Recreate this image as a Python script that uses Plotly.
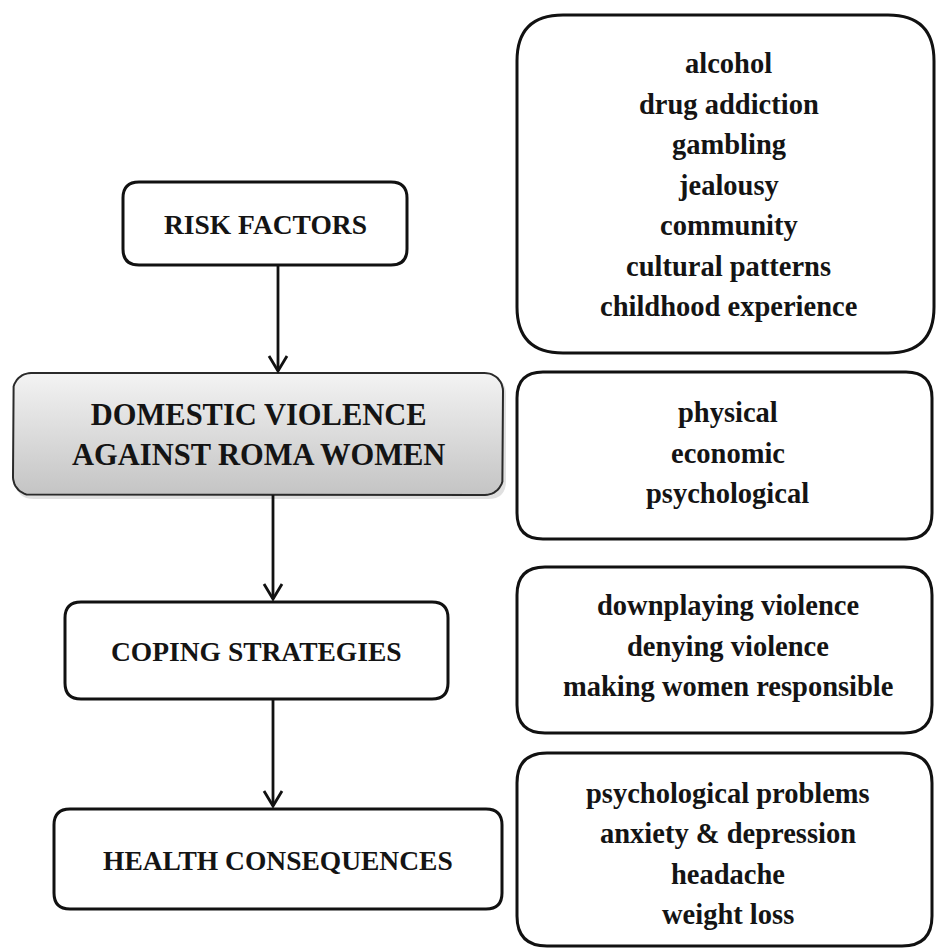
import plotly.graph_objects as go
import math

# ---- content ----
main_labels = ["RISK FACTORS", "DOMESTIC VIOLENCE<br>AGAINST ROMA WOMEN",
               "COPING STRATEGIES", "HEALTH CONSEQUENCES"]
risk_items = ["alcohol", "drug addiction", "gambling", "jealousy", "community",
              "cultural patterns", "childhood experience"]
violence_items = ["physical", "economic", "psychological"]
coping_items = ["downplaying violence", "denying violence", "making women responsible"]
health_items = ["psychological problems", "anxiety & depression", "headache", "weight loss"]
detail_groups = [risk_items, violence_items, coping_items, health_items]

# ---- layout geometry (pixels, y downward) ----
W, H = 936, 948
left_boxes = [  # x0, y0, x1, y1, radius, font size
    (123, 182, 407, 265, 16, 27.5),
    (13, 373, 503, 495, 18, 30.5),
    (65, 602, 448, 699, 16, 27.5),
    (54, 809, 502, 909, 16, 27.5),
]
right_boxes = [  # x0, y0, x1, y1, radius, text centre y
    (517, 15, 934, 353, 46, 185),
    (517, 372, 932, 539, 26, 453),
    (517, 567, 932, 733, 28, 646),
    (517, 753, 932, 946, 30, 854),
]
arrows = [(278, 265, 372), (273, 495, 600), (273, 699, 807)]
LINE_GAP = 40.5
DETAIL_SIZE = 28.5
FONT = "Liberation Serif"
INK = "#141414"


def rr_path(x0, y0, x1, y1, r):
    return (f"M{x0+r},{y0} L{x1-r},{y0} Q{x1},{y0} {x1},{y0+r} "
            f"L{x1},{y1-r} Q{x1},{y1} {x1-r},{y1} L{x0+r},{y1} "
            f"Q{x0},{y1} {x0},{y1-r} L{x0},{y0+r} Q{x0},{y0} {x0+r},{y0} Z")


def rr_points(x0, y0, x1, y1, r, n=12):
    xs, ys = [], []
    corners = [(x1 - r, y0 + r, -90, 0), (x1 - r, y1 - r, 0, 90),
               (x0 + r, y1 - r, 90, 180), (x0 + r, y0 + r, 180, 270)]
    for cx, cy, a0, a1 in corners:
        for i in range(n + 1):
            a = math.radians(a0 + (a1 - a0) * i / n)
            xs.append(cx + r * math.cos(a))
            ys.append(cy + r * math.sin(a))
    xs.append(xs[0]); ys.append(ys[0])
    return xs, ys


fig = go.Figure()
shapes = []
annotations = []

# shadow + gradient for the central box
x0, y0, x1, y1, r, fs = left_boxes[1]
shapes.append(dict(type="path", path=rr_path(x0 + 3, y0 + 4, x1 + 3, y1 + 4, r),
                   line=dict(width=0), fillcolor="rgba(0,0,0,0.12)", layer="below"))
gx, gy = rr_points(x0, y0, x1, y1, r)
fig.add_trace(go.Scatter(
    x=gx, y=gy, mode="lines", fill="toself", hoverinfo="skip", showlegend=False,
    line=dict(color="#2a2a2a", width=2),
    fillgradient=dict(type="vertical",
                      colorscale=[[0, "#c4c4c4"], [1, "#f3f3f3"]])))

for i, (bx0, by0, bx1, by1, r, fs) in enumerate(left_boxes):
    if i != 1:
        shapes.append(dict(type="path", path=rr_path(bx0, by0, bx1, by1, r),
                           line=dict(color="#111", width=3), fillcolor="white"))
    annotations.append(dict(x=(bx0 + bx1) / 2, y=(by0 + by1) / 2 + 1,
                            text=main_labels[i], showarrow=False,
                            font=dict(family=FONT, size=fs, color=INK, weight="bold"),
                            xanchor="center", yanchor="middle"))

for (bx0, by0, bx1, by1, r, cy), items in zip(right_boxes, detail_groups):
    shapes.append(dict(type="path", path=rr_path(bx0, by0, bx1, by1, r),
                       line=dict(color="#111", width=3), fillcolor="white"))
    n = len(items)
    for k, t in enumerate(items):
        annotations.append(dict(x=(bx0 + bx1) / 2 + 3, y=cy + (k - (n - 1) / 2) * LINE_GAP,
                                text=t, showarrow=False,
                                font=dict(family=FONT, size=DETAIL_SIZE, color=INK, weight="bold"),
                                xanchor="center", yanchor="middle"))

for ax, ya, yb in arrows:
    shapes.append(dict(type="line", x0=ax, x1=ax, y0=ya, y1=yb - 1,
                       line=dict(color="#111", width=2.8)))
    shapes.append(dict(type="path", path=f"M{ax-9},{yb-16} L{ax},{yb-1} L{ax+9},{yb-16}",
                       line=dict(color="#111", width=2.8)))

fig.update_layout(
    width=W, height=H, margin=dict(l=0, r=0, t=0, b=0),
    paper_bgcolor="white", plot_bgcolor="white",
    xaxis=dict(range=[0, W], visible=False, fixedrange=True),
    yaxis=dict(range=[H, 0], visible=False, fixedrange=True),
    shapes=shapes, annotations=annotations, showlegend=False,
)
fig.write_html("out.html", config={"displayModeBar": False},
               post_script="document.body.style.margin='0';"
                           "document.body.style.overflow='hidden';")
